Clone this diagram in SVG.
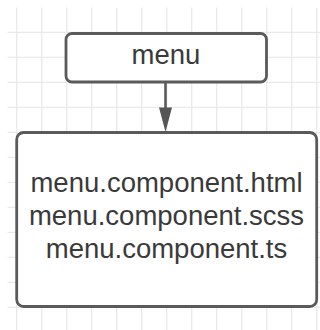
<svg xmlns="http://www.w3.org/2000/svg" width="320" height="330" viewBox="0 0 320 330">
  <style>
    .grid line { stroke: #e9e9e9; stroke-width: 1.3; }
    .box { fill: #ffffff; stroke: #5a5a5a; stroke-width: 2.8; }
    .label { font-family: "Liberation Sans", Arial, sans-serif; font-size: 27.5px; fill: #3a3a3a; text-anchor: middle; }
    .edge { stroke: #5a5a5a; stroke-width: 2.6; fill: none; }
    .head { fill: #555555; }
  </style>

  <rect width="320" height="330" fill="#ffffff"/>

  <!-- background grid -->
  <g class="grid">
    <line x1="16.7" y1="7.5" x2="16.7" y2="330"/>
    <line x1="41.7" y1="7.5" x2="41.7" y2="330"/>
    <line x1="66.7" y1="7.5" x2="66.7" y2="330"/>
    <line x1="91.7" y1="7.5" x2="91.7" y2="330"/>
    <line x1="116.7" y1="7.5" x2="116.7" y2="330"/>
    <line x1="141.7" y1="7.5" x2="141.7" y2="330"/>
    <line x1="166.7" y1="7.5" x2="166.7" y2="330"/>
    <line x1="191.7" y1="7.5" x2="191.7" y2="330"/>
    <line x1="216.7" y1="7.5" x2="216.7" y2="330"/>
    <line x1="241.7" y1="7.5" x2="241.7" y2="330"/>
    <line x1="266.7" y1="7.5" x2="266.7" y2="330"/>
    <line x1="291.7" y1="7.5" x2="291.7" y2="330"/>
    <line x1="316.7" y1="7.5" x2="316.7" y2="330"/>
    <line x1="7.5" y1="32.3" x2="320" y2="32.3"/>
    <line x1="7.5" y1="57.3" x2="320" y2="57.3"/>
    <line x1="7.5" y1="82.3" x2="320" y2="82.3"/>
    <line x1="7.5" y1="107.3" x2="320" y2="107.3"/>
    <line x1="7.5" y1="132.3" x2="320" y2="132.3"/>
    <line x1="7.5" y1="157.3" x2="320" y2="157.3"/>
    <line x1="7.5" y1="182.3" x2="320" y2="182.3"/>
    <line x1="7.5" y1="207.3" x2="320" y2="207.3"/>
    <line x1="7.5" y1="232.3" x2="320" y2="232.3"/>
    <line x1="7.5" y1="257.3" x2="320" y2="257.3"/>
    <line x1="7.5" y1="282.3" x2="320" y2="282.3"/>
    <line x1="7.5" y1="307.3" x2="320" y2="307.3"/>
  </g>

  <!-- connectors -->
  <g id="connectors">
    <line class="edge" x1="165.5" y1="83" x2="165.5" y2="110"/>
    <path class="head" d="M159,107.5 L172,107.5 L165.5,132 Z"/>
  </g>

  <!-- node: menu -->
  <g id="node-menu">
    <rect class="box" x="66" y="33.5" width="200.5" height="48.5" rx="6"/>
    <text class="label" x="166" y="64">menu</text>
  </g>

  <!-- node: component files -->
  <g id="node-files">
    <rect class="box" x="16.7" y="132.5" width="300" height="174" rx="7"/>
    <text class="label" x="166.5" y="192">menu.component.html</text>
    <text class="label" x="166.5" y="225">menu.component.scss</text>
    <text class="label" x="166.5" y="258">menu.component.ts</text>
  </g>
</svg>
